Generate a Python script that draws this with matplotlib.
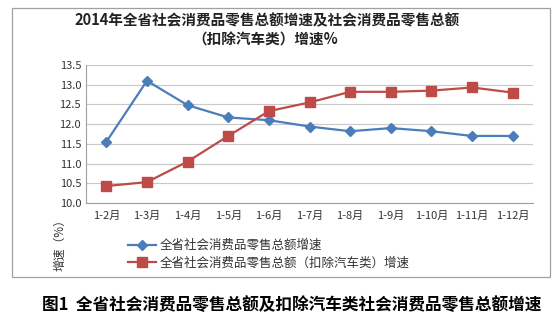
import matplotlib.pyplot as plt
from matplotlib.patches import Rectangle

plt.rcParams['font.family'] = ['Noto Sans CJK SC', 'DejaVu Sans']

# 月份
meses = ['1-2月', '1-3月', '1-4月', '1-5月', '1-6月', '1-7月', '1-8月', '1-9月', '1-10月', '1-11月', '1-12月']
# 全省社会消费品零售总额增速
total = [11.55, 13.1, 12.48, 12.17, 12.1, 11.94, 11.82, 11.9, 11.82, 11.7, 11.7]
# 扣除汽车类
sin_coches = [10.43, 10.53, 11.05, 11.7, 12.33, 12.55, 12.82, 12.82, 12.85, 12.93, 12.8]

fig = plt.figure(figsize=(5.6, 3.23), dpi=100)

# Marco exterior
fig.patches.append(Rectangle((12 / 560, 1 - 277 / 323), 538 / 560, 269 / 323,
                             transform=fig.transFigure, fill=False, edgecolor='#a0a0a0', lw=0.9))

ax = fig.add_axes([86 / 560, 1 - 203 / 323, 447 / 560, 138 / 323])
x = range(len(meses))
ax.plot(x, total, color='#4a7ebb', lw=1.6, marker='D', ms=5, label='全省社会消费品零售总额增速')
ax.plot(x, sin_coches, color='#be4b48', lw=1.6, marker='s', ms=6.5, label='全省社会消费品零售总额（扣除汽车类）增速')

ax.set_ylim(10.0, 13.5)
ax.set_yticks([10.0, 10.5, 11.0, 11.5, 12.0, 12.5, 13.0, 13.5])
ax.set_yticklabels(['%.1f' % v for v in ax.get_yticks()])
ax.set_xlim(-0.5, len(meses) - 0.5)
ax.set_xticks(list(x))
ax.set_xticklabels(meses)
ax.tick_params(labelsize=8, length=0, colors='#333333')
ax.tick_params(axis='x', pad=6)
ax.grid(axis='y', color='#c8c8c8', lw=0.8)
ax.set_axisbelow(True)
for s in ['top', 'right']:
    ax.spines[s].set_visible(False)
ax.spines['left'].set_color('#a0a0a0')
ax.spines['bottom'].set_color('#a0a0a0')

# Titulo
fig.text(267 / 560, 1 - 20 / 323, '2014年全省社会消费品零售总额增速及社会消费品零售总额', ha='center', va='center',
         fontsize=10.5, fontweight='bold', color='#222222')
fig.text(265 / 560, 1 - 40 / 323, '（扣除汽车类）增速%', ha='center', va='center',
         fontsize=10.5, fontweight='bold', color='#222222')

# Etiqueta eje y
fig.text(60 / 560, 1 - 242 / 323, '增速（%）', rotation=90, ha='center', va='center', fontsize=8.5, color='#333333')

# Leyenda
fig.legend(loc='upper left', bbox_to_anchor=(122 / 560, 1 - 233 / 323), frameon=False, fontsize=9,
           handlelength=2.2, labelspacing=0.35, borderpad=0, handletextpad=0.3, labelcolor='#333333')

# Pie
fig.text(292 / 560, 1 - 305 / 323, '图1  全省社会消费品零售总额及扣除汽车类社会消费品零售总额增速', ha='center', va='center',
         fontsize=12, fontweight='bold', color='black')

fig.savefig('out.png', dpi=100)
